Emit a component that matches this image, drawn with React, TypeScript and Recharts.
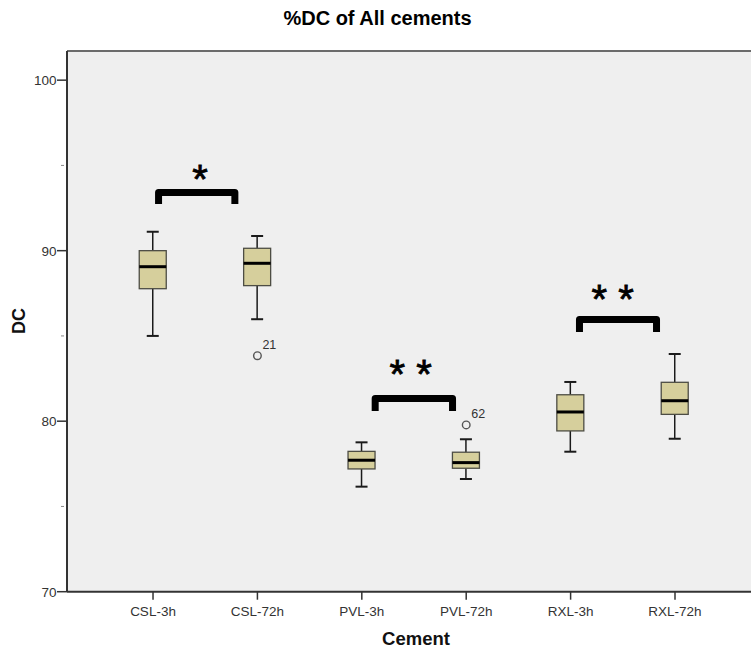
import {
  Bar,
  CartesianGrid,
  ComposedChart,
  Label,
  Line,
  ReferenceLine,
  Scatter,
  XAxis,
  YAxis,
} from "recharts";

const groups = ["CSL-3h", "CSL-72h", "PVL-3h", "PVL-72h", "RXL-3h", "RXL-72h"];
const lowWhisker = [85.0, 85.98, 76.16, 76.61, 78.21, 78.97];
const q1 = [87.77, 87.95, 77.2, 77.24, 79.43, 80.4];
const medians = [89.06, 89.26, 77.71, 77.57, 80.54, 81.2];
const q3 = [90.0, 90.14, 78.23, 78.18, 81.55, 82.28];
const highWhisker = [91.11, 90.86, 78.76, 78.94, 82.3, 83.94];

const outliers = [
  { x: 1, y: 83.84, id: "21" },
  { x: 3, y: 79.78, id: "62" },
];

// significance brackets between pairs
const bracketFrom = [0.053, 2.128, 4.085];
const bracketTo = [0.784, 2.869, 4.823];
const bracketTop = [93.41, 81.33, 85.96];
const bracketFoot = [92.74, 80.6, 85.23];
const starText = ["*", "* *", "* *"];
const starX = [0.45, 2.468, 4.403];
const starY = [94.57, 83.12, 87.52];

const yTicks = [70, 75, 80, 85, 90, 95, 100];
const Y_MIN = 70;
const Y_MAX = 101.71;

const FONT = "'Liberation Sans', Arial, sans-serif";
const BOX_W = 27;

const boxes = groups.map((name, i) => ({
  x: i,
  name,
  min: lowWhisker[i],
  q1: q1[i],
  med: medians[i],
  q3: q3[i],
  max: highWhisker[i],
}));

const stars = starText.map((t, i) => ({ x: starX[i], y: starY[i], t }));

const brackets = bracketFrom.map((from, i) => [
  { x: from, y: bracketFoot[i] },
  { x: from, y: bracketTop[i] },
  { x: bracketTo[i], y: bracketTop[i] },
  { x: bracketTo[i], y: bracketFoot[i] },
]);

function BoxShape(props: any) {
  const { x, y, width, height, payload } = props;
  const top = Math.min(y, y + height);
  const h = Math.abs(height);
  const k = h / (payload.max - payload.min);
  const py = (v: number) => top + (payload.max - v) * k;
  const cx = x + width / 2;
  const left = cx - BOX_W / 2;
  const cap = 6;
  return (
    <g>
      <line x1={cx} x2={cx} y1={py(payload.max)} y2={py(payload.q3)} stroke="#1a1a1a" strokeWidth={1.5} />
      <line x1={cx} x2={cx} y1={py(payload.q1)} y2={py(payload.min)} stroke="#1a1a1a" strokeWidth={1.5} />
      <line x1={cx - cap} x2={cx + cap} y1={py(payload.max)} y2={py(payload.max)} stroke="#1a1a1a" strokeWidth={2} />
      <line x1={cx - cap} x2={cx + cap} y1={py(payload.min)} y2={py(payload.min)} stroke="#1a1a1a" strokeWidth={2} />
      <rect
        x={left}
        y={py(payload.q3)}
        width={BOX_W}
        height={py(payload.q1) - py(payload.q3)}
        fill="#d6cf9c"
        stroke="#4d4d44"
        strokeWidth={1.3}
      />
      <line x1={left} x2={left + BOX_W} y1={py(payload.med)} y2={py(payload.med)} stroke="#000" strokeWidth={3} />
    </g>
  );
}

function OutlierShape(props: any) {
  const { cx, cy, payload } = props;
  return (
    <g>
      <circle cx={cx} cy={cy} r={3.8} fill="none" stroke="#555" strokeWidth={1.4} />
      <text x={cx + 5} y={cy - 7} fontSize={12.5} fill="#333" fontFamily={FONT}>
        {payload.id}
      </text>
    </g>
  );
}

function StarShape(props: any) {
  const { cx, cy, payload } = props;
  return (
    <text
      x={cx}
      y={cy + 20}
      textAnchor="middle"
      fontSize={40}
      fill="#000"
      stroke="#000"
      strokeWidth={0.8}
      fontFamily={FONT}
    >
      {payload.t}
    </text>
  );
}

function XTick(props: any) {
  const { x, y, payload } = props;
  return (
    <g>
      <line x1={x} x2={x} y1={y} y2={y + 8} stroke="#333" strokeWidth={1.5} />
      <text x={x} y={y + 24.5} textAnchor="middle" fontSize={13.5} fill="#333" fontFamily={FONT}>
        {groups[payload.value]}
      </text>
    </g>
  );
}

function YTick(props: any) {
  const { x, y, payload } = props;
  const major = payload.value % 10 === 0;
  if (!major) {
    return <line x1={x - 6} x2={x - 3} y1={y} y2={y} stroke="#888" strokeWidth={1} />;
  }
  return (
    <g>
      <line x1={x - 10} x2={x} y1={y} y2={y} stroke="#333" strokeWidth={1.5} />
      <text x={x - 10.5} y={y + 5} textAnchor="end" fontSize={13.5} fill="#333" fontFamily={FONT}>
        {payload.value}
      </text>
    </g>
  );
}

export default function App() {
  return (
    <div style={{ position: "absolute", left: 0, top: 0, width: 751, height: 649, background: "#fff" }}>
      <div
        style={{
          position: "absolute",
          left: 2,
          top: 8,
          width: 751,
          textAlign: "center",
          fontFamily: FONT,
          fontWeight: "bold",
          fontSize: 20,
          lineHeight: "20px",
        }}
      >
        %DC of All cements
      </div>
      <ComposedChart
        width={751}
        height={649}
        data={boxes}
        margin={{ top: 51, right: 0, bottom: 0, left: 0 }}
      >
        <CartesianGrid fill="#efefef" horizontal={false} vertical={false} />
        <XAxis
          type="number"
          dataKey="x"
          domain={[-0.824, 5.728]}
          allowDataOverflow
          ticks={[0, 1, 2, 3, 4, 5]}
          interval={0}
          height={57.3}
          tickSize={0}
          tickMargin={0}
          tick={<XTick />}
          axisLine={{ stroke: "#333", strokeWidth: 2 }}
        >
          <Label
            content={() => (
              <text x={416} y={645} textAnchor="middle" fontSize={18.5} fontWeight="bold" fill="#111" fontFamily={FONT}>
                Cement
              </text>
            )}
          />
        </XAxis>
        <YAxis
          type="number"
          domain={[Y_MIN, Y_MAX]}
          allowDataOverflow
          ticks={yTicks}
          interval={0}
          width={67}
          tickSize={0}
          tickMargin={0}
          tick={<YTick />}
          axisLine={{ stroke: "#333", strokeWidth: 2 }}
        >
          <Label
            content={() => (
              <text
                x={25}
                y={321}
                textAnchor="middle"
                fontSize={18}
                fontWeight="bold"
                fill="#111"
                fontFamily={FONT}
                transform="rotate(-90, 25, 321)"
              >
                DC
              </text>
            )}
          />
        </YAxis>
        <ReferenceLine y={Y_MAX} stroke="#6b6b6b" strokeWidth={2} />
        <Bar
          dataKey={(d: any) => [d.min, d.max]}
          barSize={27}
          shape={<BoxShape />}
          isAnimationActive={false}
        />
        <Scatter data={outliers} dataKey="y" shape={<OutlierShape />} isAnimationActive={false} />
        {brackets.map((pts, i) => (
          <Line
            key={i}
            data={pts}
            dataKey="y"
            stroke="#000"
            strokeWidth={7}
            strokeLinejoin="round"
            dot={false}
            activeDot={false}
            isAnimationActive={false}
          />
        ))}
        <Scatter data={stars} dataKey="y" shape={<StarShape />} isAnimationActive={false} />
      </ComposedChart>
    </div>
  );
}
